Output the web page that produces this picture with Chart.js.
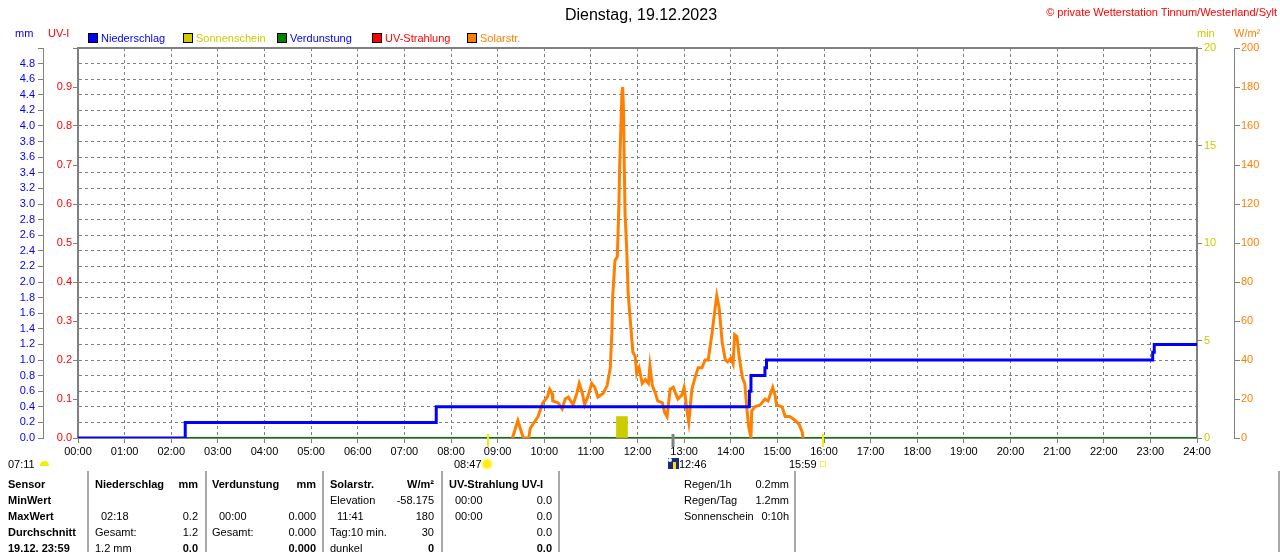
<!DOCTYPE html>
<html>
<head>
<meta charset="utf-8">
<script src="https://cdn.jsdelivr.net/npm/chart.js@4.4.0/dist/chart.umd.min.js"></script>
<style>
body{margin:0;background:#fff;}
#wrap{position:relative;width:1280px;height:552px;overflow:hidden;font-family:'Liberation Sans',Arial,sans-serif;font-size:11px;color:#000;}
#chart{position:absolute;left:0;top:0;}
.t{position:absolute;white-space:nowrap;line-height:16px;}
.r{transform:translateX(-100%);}
.b{font-weight:bold;}
.sep{position:absolute;top:471px;height:81px;width:2px;background:#a8a8a8;}
.lg{position:absolute;top:33px;width:8px;height:8px;border:1px solid #000;}
</style>
</head>
<body>
<div id="wrap">
<canvas id="chart" width="1280" height="552"></canvas>

<div class="t" style="left:641px;top:5px;font-size:16px;line-height:20px;transform:translateX(-50%)">Dienstag, 19.12.2023</div>
<div class="t r" style="left:1277px;top:4px;color:#ff0000">© private Wetterstation Tinnum/Westerland/Sylt</div>

<div class="t" style="left:15px;top:25px;color:#0000ff">mm</div>
<div class="t" style="left:48px;top:25px;color:#ff0000">UV-I</div>
<div class="t" style="left:1197px;top:25px;color:#cccc00">min</div>
<div class="t" style="left:1234px;top:25px;color:#ff8000">W/m²</div>

<div class="lg" style="left:88px;background:#0000ff"></div>
<div class="t" style="left:101px;top:30px;color:#0000ff">Niederschlag</div>
<div class="lg" style="left:183px;background:#cccc00"></div>
<div class="t" style="left:196px;top:30px;color:#cccc00">Sonnenschein</div>
<div class="lg" style="left:277px;background:#008000"></div>
<div class="t" style="left:290px;top:30px;color:#0000ff">Verdunstung</div>
<div class="lg" style="left:372px;background:#ff0000"></div>
<div class="t" style="left:385px;top:30px;color:#ff0000">UV-Strahlung</div>
<div class="lg" style="left:467px;background:#ff8000"></div>
<div class="t" style="left:480px;top:30px;color:#ff8000">Solarstr.</div>

<!-- sun times -->
<div class="t" style="left:8px;top:456px">07:11</div>
<div style="position:absolute;left:40px;top:461px;width:9px;height:5px;border-radius:5px 5px 0 0;background:#f0f000"></div>
<div class="t" style="left:454px;top:456px">08:47</div>
<div style="position:absolute;left:483px;top:460px;width:8px;height:8px;border-radius:50%;background:#ffee00;box-shadow:0 0 0 2px #fff8a0"></div>
<div style="position:absolute;left:668px;top:458px;width:11px;height:11px;background:#1c2a80"></div>
<div style="position:absolute;left:668px;top:458px;width:4px;height:4px;border-radius:50%;background:#fff"></div>
<div style="position:absolute;left:673px;top:462px;width:3px;height:7px;background:#ffe000"></div>
<div class="t" style="left:679px;top:456px">12:46</div>
<div class="t" style="left:789px;top:456px">15:59</div>
<div style="position:absolute;left:820px;top:461px;width:4px;height:4px;border:1px solid #f4f060"></div>

<!-- table -->
<div class="sep" style="left:87px"></div>
<div class="sep" style="left:205px"></div>
<div class="sep" style="left:322px"></div>
<div class="sep" style="left:441px"></div>
<div class="sep" style="left:558px"></div>
<div class="sep" style="left:794px"></div>
<div class="sep" style="left:1278px"></div>

<div class="t b" style="left:8px;top:476px">Sensor</div>
<div class="t b" style="left:8px;top:492px">MinWert</div>
<div class="t b" style="left:8px;top:508px">MaxWert</div>
<div class="t b" style="left:8px;top:524px">Durchschnitt</div>
<div class="t b" style="left:8px;top:540px">19.12. 23:59</div>

<div class="t b" style="left:95px;top:476px">Niederschlag</div>
<div class="t b r" style="left:198px;top:476px">mm</div>
<div class="t" style="left:101px;top:508px">02:18</div>
<div class="t r" style="left:198px;top:508px">0.2</div>
<div class="t" style="left:95px;top:524px">Gesamt:</div>
<div class="t r" style="left:198px;top:524px">1.2</div>
<div class="t" style="left:95px;top:540px">1.2 mm</div>
<div class="t b r" style="left:198px;top:540px">0.0</div>

<div class="t b" style="left:212px;top:476px">Verdunstung</div>
<div class="t b r" style="left:316px;top:476px">mm</div>
<div class="t" style="left:219px;top:508px">00:00</div>
<div class="t r" style="left:316px;top:508px">0.000</div>
<div class="t" style="left:212px;top:524px">Gesamt:</div>
<div class="t r" style="left:316px;top:524px">0.000</div>
<div class="t b r" style="left:316px;top:540px">0.000</div>

<div class="t b" style="left:330px;top:476px">Solarstr.</div>
<div class="t b r" style="left:434px;top:476px">W/m²</div>
<div class="t" style="left:330px;top:492px">Elevation</div>
<div class="t r" style="left:434px;top:492px">-58.175</div>
<div class="t" style="left:337px;top:508px">11:41</div>
<div class="t r" style="left:434px;top:508px">180</div>
<div class="t" style="left:330px;top:524px">Tag:10 min.</div>
<div class="t r" style="left:434px;top:524px">30</div>
<div class="t" style="left:330px;top:540px">dunkel</div>
<div class="t b r" style="left:434px;top:540px">0</div>

<div class="t b" style="left:449px;top:476px">UV-Strahlung UV-I</div>
<div class="t" style="left:455px;top:492px">00:00</div>
<div class="t r" style="left:552px;top:492px">0.0</div>
<div class="t" style="left:455px;top:508px">00:00</div>
<div class="t r" style="left:552px;top:508px">0.0</div>
<div class="t r" style="left:552px;top:524px">0.0</div>
<div class="t b r" style="left:552px;top:540px">0.0</div>

<div class="t" style="left:684px;top:476px">Regen/1h</div>
<div class="t r" style="left:789px;top:476px">0.2mm</div>
<div class="t" style="left:684px;top:492px">Regen/Tag</div>
<div class="t r" style="left:789px;top:492px">1.2mm</div>
<div class="t" style="left:684px;top:508px">Sonnenschein</div>
<div class="t r" style="left:789px;top:508px">0:10h</div>
</div>

<script>
// time of day in minutes
const xTickLabels=["00:00","01:00","02:00","03:00","04:00","05:00","06:00","07:00","08:00","09:00","10:00","11:00","12:00",
  "13:00","14:00","15:00","16:00","17:00","18:00","19:00","20:00","21:00","22:00","23:00","24:00"];

// Niederschlag (cumulative mm)
const rainTime=[0,138,461,864,866,884,886,1383,1385,1440];
const rainMM=[0,0.2,0.4,0.6,0.8,0.9,1.0,1.1,1.2,1.2];

// Sonnenschein (min per interval)
const sunTime=[700];
const sunMin=[1.1];

// Verdunstung, UV
const evapTime=[0,1440];
const evapMM=[0,0];
const uvTime=[0,1440];
const uvIndex=[0,0];

// Solarstrahlung W/m2
const solarTime=[559,566,573,580,582,592,598,604,607,610,611,618,623,627,631,637,642,645,649,652,656,661,665,669,676,681,
  685,687,688,691,694,696,697,700,701,702,703,704,706,708,712,714,717,719,722,726,730,734,736,739,743,746,752,755,758,762,
  766,772,777,780,784,786,790,794,798,803,807,811,816,820,822,825,829,833,836,840,843,845,848,851,855,858,861,863,866,867,
  871,878,884,888,894,897,899,906,910,916,923,928,932,933];
const solarWm=[0,9,0,0,5,11,18,21,25,23,19,18,15,20,21,17,23,28,23,17,21,28,26,21,23,27,
  36,54,72,91,93,118,139,177,180,168,139,115,98,74,54,44,42,33,36,28,30,28,37,27,23,19,18,13,11,25,
  26,20,22,26,13,8,25,31,36,36,40,40,54,67,73,67,49,40,39,41,38,53,52,41,31,28,14,6,0,14,
  16,17,20,19,26,22,17,16,11,11,9,7,3,0];

// Sonnenaufgang, Mittag, Untergang
const sunEvents=[527,766,959];
const sunEventColors=["#f0f000","#808080","#f0f000"];

function pts(xs,ys){return xs.map((x,i)=>({x:x,y:ys[i]}))}

const grey="#808080";
Chart.defaults.font.family="'Liberation Sans', Arial, sans-serif";
Chart.defaults.font.size=11;

const frame={
  id:"frame",
  afterDraw(chart){
    const a=chart.chartArea, ctx=chart.ctx;
    ctx.save();
    ctx.strokeStyle=grey;
    ctx.lineWidth=2;
    ctx.beginPath();
    ctx.moveTo(a.left,a.top);
    ctx.lineTo(a.right,a.top);
    ctx.stroke();
    // sun markers on time axis
    const xs=chart.scales.x;
    sunEvents.forEach((t,i)=>{
      const px=Math.round(xs.getPixelForValue(t));
      ctx.strokeStyle=sunEventColors[i];
      ctx.lineWidth=i===1?3:2;
      ctx.beginPath();
      ctx.moveTo(px,a.bottom-4);
      ctx.lineTo(px,a.bottom+9);
      ctx.stroke();
    });
    ctx.restore();
  }
};

new Chart(document.getElementById("chart"),{
  type:"line",
  data:{datasets:[
    {label:"Niederschlag",data:pts(rainTime,rainMM),yAxisID:"mm",borderColor:"#0000ff",borderWidth:3,stepped:true,pointRadius:0,order:0},
    {label:"Solarstr.",data:pts(solarTime,solarWm),yAxisID:"wm",borderColor:"#ff8000",borderWidth:3,pointRadius:0,tension:0,order:1},
    {type:"bar",label:"Sonnenschein",data:pts(sunTime,sunMin),yAxisID:"min",backgroundColor:"#cccc00",barThickness:11,order:2},
    {label:"Verdunstung",data:pts(evapTime,evapMM),yAxisID:"mm",borderColor:"#008000",borderWidth:2,pointRadius:0,order:3},
    {label:"UV-Strahlung",data:pts(uvTime,uvIndex),yAxisID:"uv",borderColor:"#ff0000",borderWidth:2,pointRadius:0,order:4}
  ]},
  options:{
    responsive:false,
    animation:false,
    layout:{padding:{top:48,bottom:94,left:0,right:0}},
    plugins:{legend:{display:false},tooltip:{enabled:false}},
    scales:{
      x:{type:"linear",min:0,max:1440,offset:false,
        ticks:{stepSize:60,maxTicksLimit:100,autoSkip:false,maxRotation:0,color:"#000",padding:2,
          callback:v=>xTickLabels[Math.round(v/60)]},
        grid:{offset:false,color:grey,tickLength:5,tickColor:grey},
        border:{dash:[3,3],color:grey,width:2},
        afterFit:s=>{s.height=20}},
      uv:{position:"left",weight:0,min:0,max:1,
        ticks:{stepSize:0.1,maxTicksLimit:100,autoSkip:false,color:"#ff0000",padding:1,callback:v=>v>0.95?"":v.toFixed(1)},
        grid:{drawOnChartArea:false,tickLength:5,color:grey},
        border:{color:grey,width:2},
        afterFit:s=>{s.width=35}},
      mm:{position:"left",weight:1,min:0,max:5,
        ticks:{stepSize:0.2,maxTicksLimit:100,autoSkip:false,color:"#0000ff",padding:3,callback:v=>v>4.9?"":v.toFixed(1)},
        grid:{color:grey,tickLength:5,tickColor:grey},
        border:{dash:[3,3],color:grey,width:1},
        afterFit:s=>{s.width=43}},
      min:{position:"right",weight:0,min:0,max:20,
        ticks:{stepSize:5,maxTicksLimit:100,autoSkip:false,color:"#cccc00",padding:2},
        grid:{drawOnChartArea:false,tickLength:5,color:grey},
        border:{color:grey,width:2},
        afterFit:s=>{s.width=37}},
      wm:{position:"right",weight:1,min:0,max:200,
        ticks:{stepSize:20,maxTicksLimit:100,autoSkip:false,color:"#ff8000",padding:1},
        grid:{drawOnChartArea:false,tickLength:6,color:grey},
        border:{color:grey,width:1},
        afterFit:s=>{s.width=46}}
    }
  },
  plugins:[frame]
});
</script>
</body>
</html>
